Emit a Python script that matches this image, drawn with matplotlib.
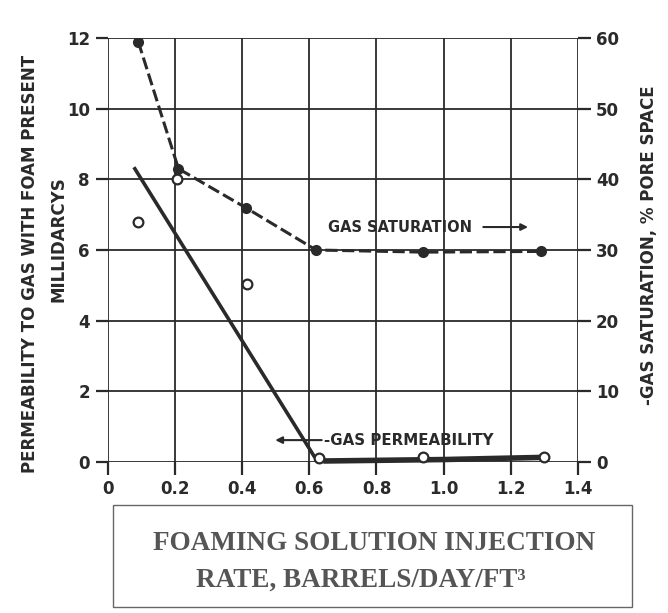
import matplotlib.pyplot as plt
from matplotlib.patches import Rectangle

# gas saturation, % pore space (right axis)
sat_x = [0.09, 0.21, 0.41, 0.62, 0.94, 1.29]
sat_y = [59.5, 41.5, 36.0, 30.0, 29.7, 29.8]

# measured gas permeability, md (open circles)
perm_x = [0.09, 0.205, 0.415, 0.63, 0.94, 1.30]
perm_y = [6.8, 8.0, 5.05, 0.12, 0.15, 0.15]

# faired permeability curve
fit_x = [0.08, 0.615, 0.65, 1.0, 1.29]
fit_y = [8.3, 0.15, 0.03, 0.07, 0.13]

xticks = [0, 0.2, 0.4, 0.6, 0.8, 1.0, 1.2, 1.4]
xlabels = ['0', '0.2', '0.4', '0.6', '0.8', '1.0', '1.2', '1.4']
yticks = [0, 2, 4, 6, 8, 10, 12]
y2ticks = [0, 10, 20, 30, 40, 50, 60]

ink = '#2a2a2a'
fig = plt.figure(figsize=(6.68, 6.13), dpi=100)
ax = fig.add_axes([0.1617, 0.2463, 0.7033, 0.6917])
ax.set_xlim(0, 1.4)
ax.set_ylim(0, 12)
ax.set_xticks(xticks)
ax.set_xticklabels(xlabels)
ax.set_yticks(yticks)
ax.grid(True, color=ink, lw=1.3)
for s in ax.spines.values():
    s.set_visible(False)
ax.tick_params(direction='out', length=9, width=1.6, color=ink,
               labelsize=12, labelcolor=ink, pad=4)
for t in ax.get_xticklabels() + ax.get_yticklabels():
    t.set_fontweight('bold')

ax2 = ax.twinx()
ax2.set_ylim(0, 60)
ax2.set_yticks(y2ticks)
for s in ax2.spines.values():
    s.set_visible(False)
ax2.tick_params(direction='out', length=9, width=1.6, color=ink,
                labelsize=12, labelcolor=ink, pad=4)
for t in ax2.get_yticklabels():
    t.set_fontweight('bold')

ax2.plot(sat_x, sat_y, color=ink, lw=2.2, ls=(0, (4, 1.5)),
         marker='o', ms=7, mfc=ink, mec=ink, zorder=4)

ax.plot(fit_x, fit_y, color=ink, lw=2.6, zorder=4, clip_on=False)
ax.plot(fit_x[2:], fit_y[2:], color=ink, lw=4, zorder=4, clip_on=False)
ax.plot(perm_x, perm_y, ls='none', marker='o', ms=7, mfc='white',
        mec=ink, mew=1.6, zorder=5, clip_on=False)

ax.text(0.655, 6.65, 'GAS SATURATION', fontsize=10.5, fontweight='bold',
        color=ink, va='center', ha='left')
ax.annotate('', xy=(1.26, 6.65), xytext=(1.11, 6.65),
            arrowprops=dict(arrowstyle='-|>', color=ink, lw=1.5))
ax.text(0.645, 0.62, '-GAS PERMEABILITY', fontsize=10.8, fontweight='bold',
        color=ink, va='center', ha='left')
ax.annotate('', xy=(0.49, 0.62), xytext=(0.645, 0.62),
            arrowprops=dict(arrowstyle='-|>', color=ink, lw=1.5))

fig.text(0.045, 0.57, 'PERMEABILITY TO GAS WITH FOAM PRESENT', rotation=90,
         fontsize=12, fontweight='bold', color=ink, ha='center', va='center')
fig.text(0.088, 0.61, 'MILLIDARCYS', rotation=90,
         fontsize=12, fontweight='bold', color=ink, ha='center', va='center')
fig.text(0.972, 0.6, '-GAS SATURATION, % PORE SPACE', rotation=90,
         fontsize=12, fontweight='bold', color=ink, ha='center', va='center')

fig.patches.append(Rectangle((113 / 668, 1 - 607 / 613), 519 / 668, 102 / 613,
                             transform=fig.transFigure, fill=False,
                             ec='#666666', lw=1.0))
fig.text(0.56, 1 - 543 / 613, 'FOAMING SOLUTION INJECTION',
         family='Liberation Serif', fontweight='bold', fontsize=19.5,
         color='#555555', ha='center', va='center')
fig.text(0.54, 1 - 580 / 613, 'RATE, BARRELS/DAY/FT³',
         family='Liberation Serif', fontweight='bold', fontsize=19.5,
         color='#555555', ha='center', va='center')

fig.savefig('out.png', dpi=100)
